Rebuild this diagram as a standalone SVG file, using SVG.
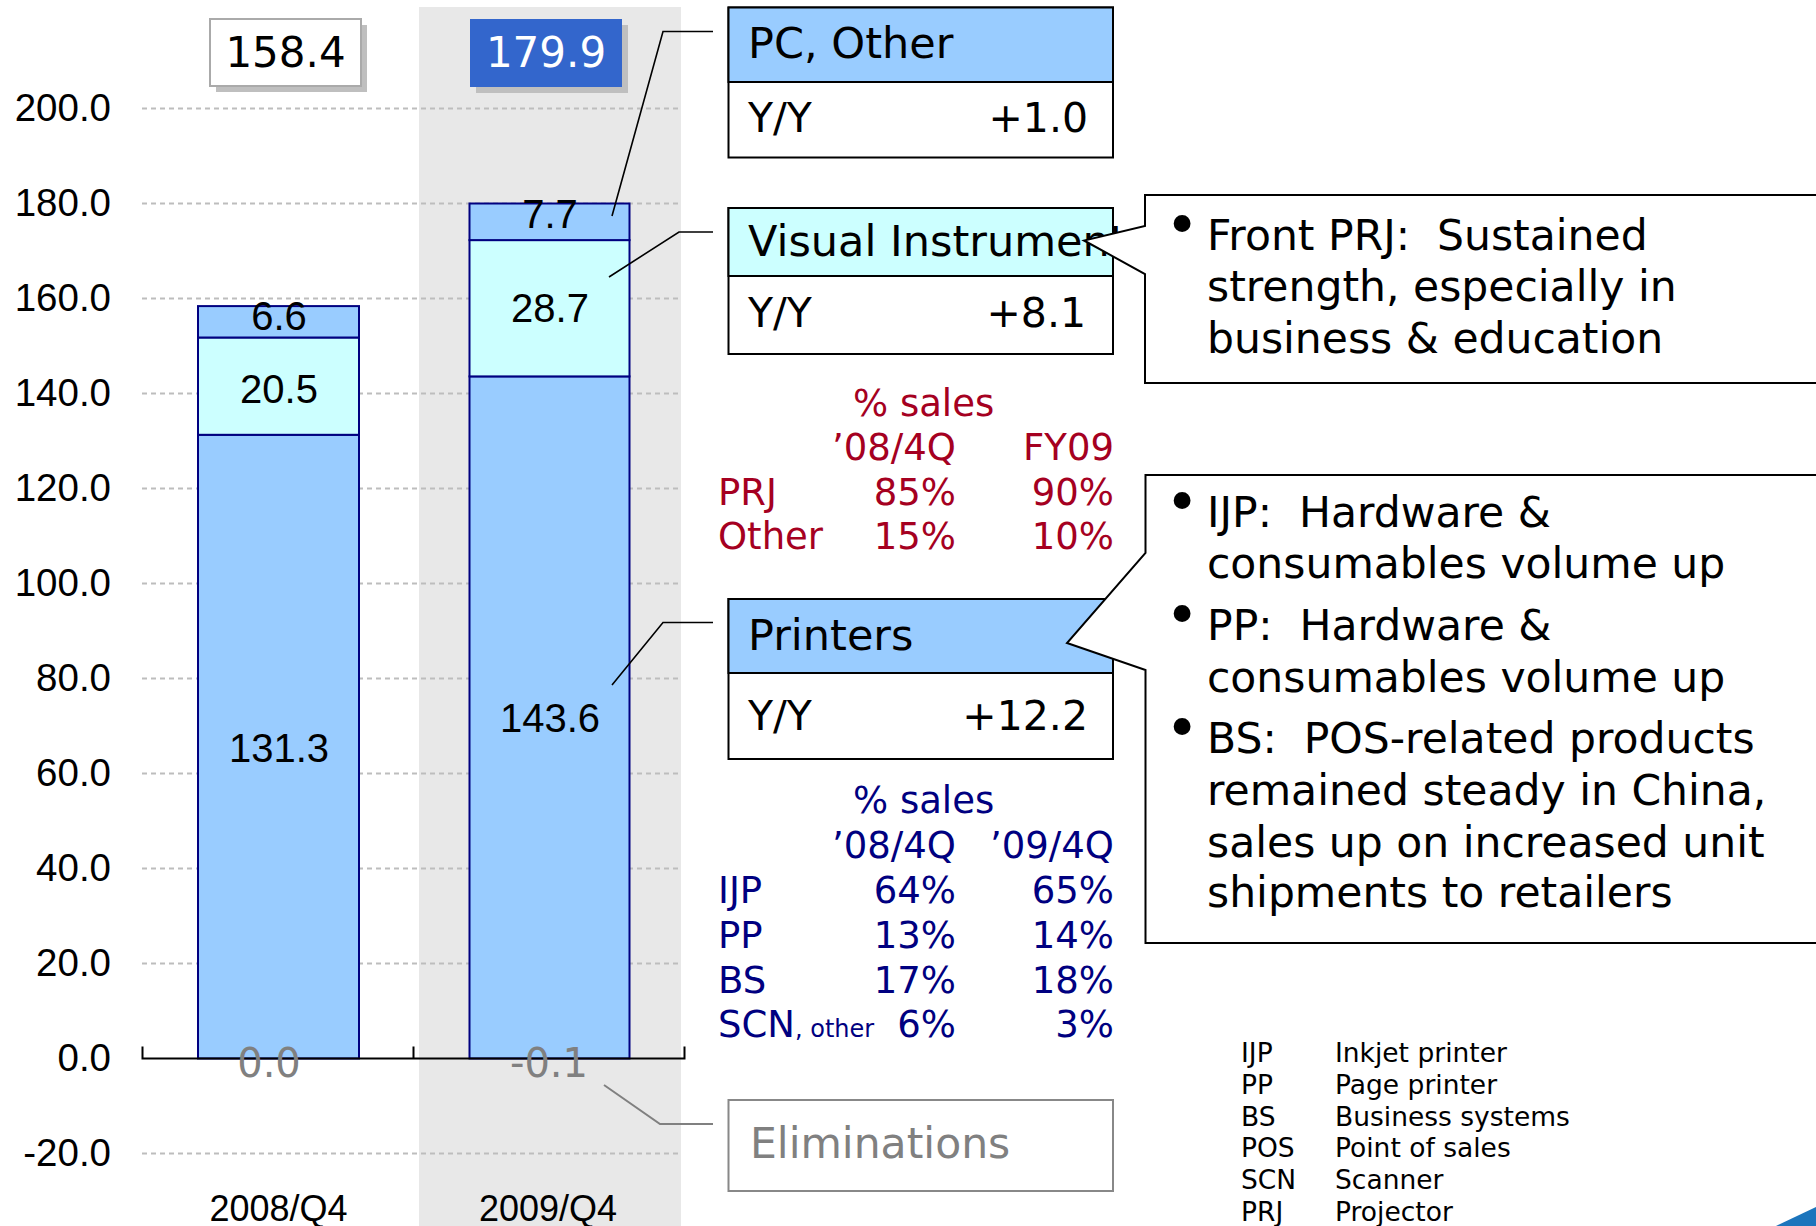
<svg xmlns="http://www.w3.org/2000/svg" width="1816" height="1226" viewBox="0 0 1816 1226">
<style>
.ax{font-family:"Liberation Sans",Arial,sans-serif;font-size:38.5px;fill:#000;text-anchor:end}
.cat{font-family:"Liberation Sans",Arial,sans-serif;font-size:36px;fill:#000;text-anchor:middle}
.val{font-family:"Liberation Sans",Arial,sans-serif;font-size:40px;fill:#000;text-anchor:middle}
.elv{font-family:"DejaVu Sans",Verdana,sans-serif;font-size:40px;fill:#808080;text-anchor:middle}
.tot{font-family:"DejaVu Sans",Verdana,sans-serif;font-size:42px;text-anchor:middle}
.grid{stroke:#BDBDBD;stroke-width:2;stroke-dasharray:5 4;fill:none}
.seg1{fill:#99CCFF;stroke:#000080;stroke-width:2}
.seg2{fill:#CCFFFF;stroke:#000080;stroke-width:2}
.box{fill:#fff;stroke:#000;stroke-width:2}
.hd{font-family:"DejaVu Sans",Verdana,sans-serif;font-size:43px;fill:#000}
.yy{font-family:"DejaVu Sans",Verdana,sans-serif;font-size:41px;fill:#000}
.co{font-family:"DejaVu Sans",Verdana,sans-serif;font-size:42.5px;fill:#000;white-space:pre}
.bul{font-family:"DejaVu Sans",Verdana,sans-serif;font-size:58px;fill:#000;text-anchor:middle}
.tr{font-family:"DejaVu Sans",Verdana,sans-serif;font-size:37px;fill:#A50021}
.tb{font-family:"DejaVu Sans",Verdana,sans-serif;font-size:37px;fill:#000080}
.end{text-anchor:end}
.lg{font-family:"DejaVu Sans",Verdana,sans-serif;font-size:26.5px;fill:#000}
.lead{fill:none;stroke:#000;stroke-width:1.6}
</style>
<rect x="0" y="0" width="1816" height="1226" fill="#fff"/>
<rect x="419" y="7" width="262" height="1219" fill="#E8E8E8"/>
<g id="gridlines">
<line class="grid" x1="142" y1="108.5" x2="682" y2="108.5"/>
<line class="grid" x1="142" y1="203.5" x2="682" y2="203.5"/>
<line class="grid" x1="142" y1="298.5" x2="682" y2="298.5"/>
<line class="grid" x1="142" y1="393.5" x2="682" y2="393.5"/>
<line class="grid" x1="142" y1="488.5" x2="682" y2="488.5"/>
<line class="grid" x1="142" y1="583.5" x2="682" y2="583.5"/>
<line class="grid" x1="142" y1="678.5" x2="682" y2="678.5"/>
<line class="grid" x1="142" y1="773.5" x2="682" y2="773.5"/>
<line class="grid" x1="142" y1="868.5" x2="682" y2="868.5"/>
<line class="grid" x1="142" y1="963.5" x2="682" y2="963.5"/>
<line class="grid" x1="142" y1="1153.5" x2="682" y2="1153.5"/>
</g>
<g id="y-axis-labels">
<text class="ax" x="111" y="121">200.0</text>
<text class="ax" x="111" y="216">180.0</text>
<text class="ax" x="111" y="311">160.0</text>
<text class="ax" x="111" y="406">140.0</text>
<text class="ax" x="111" y="501">120.0</text>
<text class="ax" x="111" y="596">100.0</text>
<text class="ax" x="111" y="691">80.0</text>
<text class="ax" x="111" y="786">60.0</text>
<text class="ax" x="111" y="881">40.0</text>
<text class="ax" x="111" y="976">20.0</text>
<text class="ax" x="111" y="1071">0.0</text>
<text class="ax" x="111" y="1166">-20.0</text>
</g>
<g id="bar-2008">
<rect class="seg1" x="198" y="434.8" width="161" height="623.7"/>
<rect class="seg2" x="198" y="337.5" width="161" height="97.3"/>
<rect class="seg1" x="198" y="306.1" width="161" height="31.4"/>
<text class="val" x="279" y="330">6.6</text>
<text class="val" x="279" y="403">20.5</text>
<text class="val" x="279" y="762">131.3</text>
</g>
<g id="bar-2009">
<rect class="seg1" x="469.5" y="376.4" width="160" height="682.1"/>
<rect class="seg2" x="469.5" y="240.1" width="160" height="136.3"/>
<rect class="seg1" x="469.5" y="203.5" width="160" height="36.6"/>
<text class="val" x="550" y="228">7.7</text>
<text class="val" x="550" y="322">28.7</text>
<text class="val" x="550" y="732">143.6</text>
</g>
<g id="x-axis">
<path d="M142.5,1046.5 V1058.5 H684.5 V1046.5 M413.5,1046.5 V1058.5" fill="none" stroke="#000" stroke-width="2"/>
<text class="elv" x="269" y="1077">0.0</text>
<text class="elv" x="549" y="1077">-0.1</text>
<text class="cat" x="278.5" y="1221">2008/Q4</text>
<text class="cat" x="548" y="1221">2009/Q4</text>
</g>
<g id="total-2008">
<rect x="216" y="25" width="151" height="67" fill="#BFBFBF"/>
<rect x="210" y="19" width="151" height="67" fill="#fff" stroke="#AAAAAA" stroke-width="2"/>
<text class="tot" x="285.5" y="67" fill="#000">158.4</text>
</g>
<g id="total-2009">
<rect x="476" y="25" width="152" height="68" fill="#BFBFBF"/>
<rect x="470" y="19" width="152" height="68" fill="#3366CC"/>
<text class="tot" x="546" y="67" fill="#fff">179.9</text>
</g>
<g id="connectors">
<path class="lead" d="M612,216 L663,31.5 H713"/>
<path class="lead" d="M609,277 L679,232 H713"/>
<path class="lead" d="M612,685 L663,622.5 H713"/>
<path d="M604,1085 L660,1124 H713" fill="none" stroke="#808080" stroke-width="2"/>
</g>
<g id="pc-other">
<rect class="box" x="728.5" y="7.5" width="384.5" height="150"/>
<rect x="728.5" y="7.5" width="384.5" height="74.5" fill="#99CCFF" stroke="#000" stroke-width="2"/>
<text class="hd" x="748" y="58">PC, Other</text>
<text class="yy" x="748" y="132">Y/Y</text>
<text class="yy end" x="1088" y="132">+1.0</text>
</g>
<g id="visual-instruments">
<rect class="box" x="728.5" y="208" width="384.5" height="146"/>
<rect x="728.5" y="208" width="384.5" height="68" fill="#CCFFFF" stroke="#000" stroke-width="2"/>
<text class="hd" x="748" y="256">Visual Instruments</text>
<text class="yy" x="748" y="327">Y/Y</text>
<text class="yy end" x="1086" y="327">+8.1</text>
</g>
<g id="callout-vi">
<path d="M1145,195 H1830 V383 H1145 V274 L1084,240.5 L1145,226 Z" fill="#fff" stroke="#000" stroke-width="2"/>
<text class="bul" x="1182" y="245">•</text>
<text class="co" x="1207" y="250">Front PRJ:  Sustained</text>
<text class="co" x="1207" y="301">strength, especially in</text>
<text class="co" x="1207" y="353">business &amp; education</text>
</g>
<g id="table-vi">
<text class="tr" x="853" y="416">% sales</text>
<text class="tr end" x="956" y="460">’08/4Q</text>
<text class="tr end" x="1114" y="460">FY09</text>
<text class="tr" x="718" y="505">PRJ</text>
<text class="tr end" x="956" y="505">85%</text>
<text class="tr end" x="1114" y="505">90%</text>
<text class="tr" x="718" y="549">Other</text>
<text class="tr end" x="956" y="549">15%</text>
<text class="tr end" x="1114" y="549">10%</text>
</g>
<g id="printers">
<rect class="box" x="728.5" y="599" width="384.5" height="160"/>
<rect x="728.5" y="599" width="384.5" height="74" fill="#99CCFF" stroke="#000" stroke-width="2"/>
<text class="hd" x="748" y="650">Printers</text>
<text class="yy" x="748" y="730">Y/Y</text>
<text class="yy end" x="1088" y="730">+12.2</text>
</g>
<g id="callout-printers">
<path d="M1145.5,475 H1830 V943 H1145.5 V670 L1067,643 L1145.5,553 Z" fill="#fff" stroke="#000" stroke-width="2"/>
<text class="bul" x="1182" y="522">•</text>
<text class="co" x="1207" y="527">IJP:  Hardware &amp;</text>
<text class="co" x="1207" y="578">consumables volume up</text>
<text class="bul" x="1182" y="635">•</text>
<text class="co" x="1207" y="640">PP:  Hardware &amp;</text>
<text class="co" x="1207" y="692">consumables volume up</text>
<text class="bul" x="1182" y="748">•</text>
<text class="co" x="1207" y="753">BS:  POS-related products</text>
<text class="co" x="1207" y="805">remained steady in China,</text>
<text class="co" x="1207" y="857">sales up on increased unit</text>
<text class="co" x="1207" y="907">shipments to retailers</text>
</g>
<g id="table-printers">
<text class="tb" x="853" y="813">% sales</text>
<text class="tb end" x="956" y="858">’08/4Q</text>
<text class="tb end" x="1114" y="858">’09/4Q</text>
<text class="tb" x="718" y="903">IJP</text>
<text class="tb end" x="956" y="903">64%</text>
<text class="tb end" x="1114" y="903">65%</text>
<text class="tb" x="718" y="948">PP</text>
<text class="tb end" x="956" y="948">13%</text>
<text class="tb end" x="1114" y="948">14%</text>
<text class="tb" x="718" y="993">BS</text>
<text class="tb end" x="956" y="993">17%</text>
<text class="tb end" x="1114" y="993">18%</text>
<text class="tb" x="718" y="1037">SCN<tspan font-size="24px">, other</tspan></text>
<text class="tb end" x="956" y="1037">6%</text>
<text class="tb end" x="1114" y="1037">3%</text>
</g>
<g id="eliminations">
<rect x="728.5" y="1100" width="384.5" height="91" fill="#fff" stroke="#888" stroke-width="2"/>
<text class="hd" x="750" y="1158" style="fill:#808080;font-size:42.5px">Eliminations</text>
</g>
<g id="legend">
<text class="lg" x="1241" y="1062">IJP</text><text class="lg" x="1335" y="1062">Inkjet printer</text>
<text class="lg" x="1241" y="1094">PP</text><text class="lg" x="1335" y="1094">Page printer</text>
<text class="lg" x="1241" y="1126">BS</text><text class="lg" x="1335" y="1126">Business systems</text>
<text class="lg" x="1241" y="1157">POS</text><text class="lg" x="1335" y="1157">Point of sales</text>
<text class="lg" x="1241" y="1189">SCN</text><text class="lg" x="1335" y="1189">Scanner</text>
<text class="lg" x="1241" y="1221">PRJ</text><text class="lg" x="1335" y="1221">Projector</text>
</g>
<polygon points="1776,1226 1816,1207 1816,1226" fill="#1C75BC"/>
</svg>
